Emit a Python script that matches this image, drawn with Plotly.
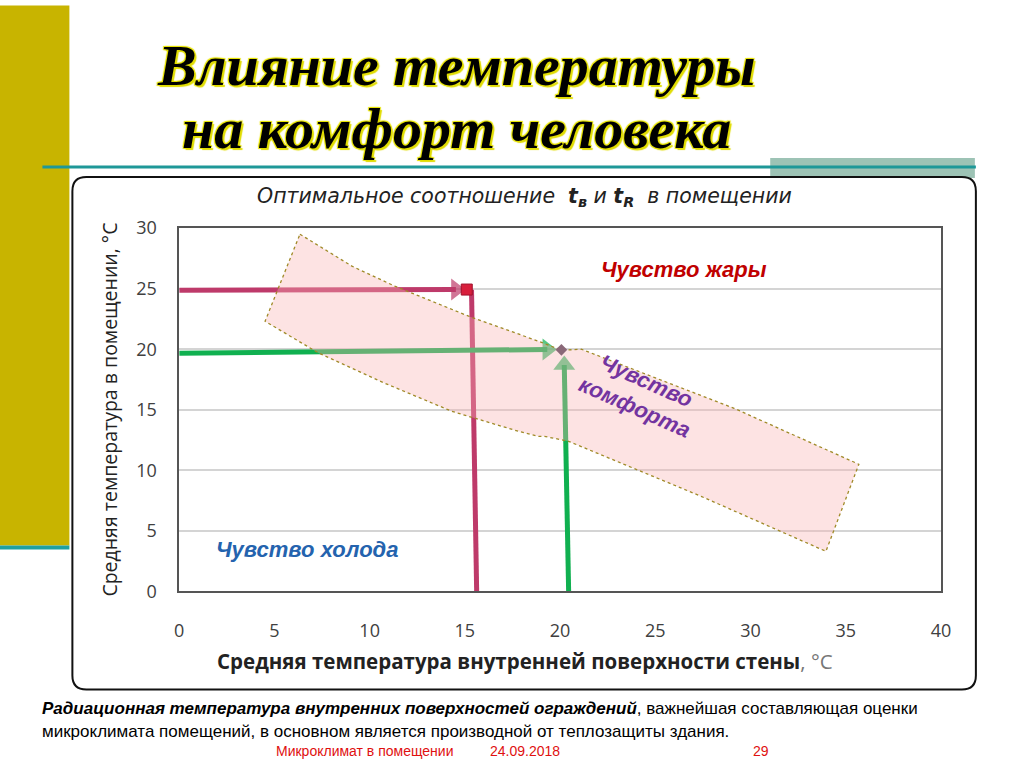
import plotly.graph_objects as go

W, H = 1024, 767
# measured page -> picture mapping of the capture (picture = C + S * page)
SX, CX = 0.987, 2.5
SY, CY = 0.968, 12.0

# ---------------- data ----------------
x_ticks = [0, 5, 10, 15, 20, 25, 30, 35, 40]
y_ticks = [0, 5, 10, 15, 20, 25, 30]

# comfort zone outline (wall temperature, room temperature)
comfort_x = [6.34, 9.07, 11.32, 15.20, 18.87, 20.07, 21.12, 29.14, 35.69,
             33.96, 27.41, 20.44, 19.18, 18.87, 17.82, 14.31, 10.80, 7.34, 4.51, 6.34]
comfort_y = [29.50, 26.86, 25.21, 22.73, 20.66, 19.92, 20.00, 15.12, 10.50,
             3.31, 7.85, 12.40, 12.81, 12.81, 13.22, 14.88, 17.19, 19.67, 22.31, 29.50]

# "too hot" example: room 25 °C -> wall ~15 °C
hot_arrow_x = [0.0, 14.53]
hot_arrow_y = [24.88, 24.93]
hot_drop_x = [15.35, 15.62]
hot_drop_y = [24.9, 0.0]
hot_point_x = [15.1]
hot_point_y = [24.93]

# optimum example: room 20 °C, wall 20 °C
opt_arrow_x = [0.0, 19.33]
opt_arrow_y = [19.67, 19.98]
wall_arrow_x = [20.45, 20.22]
wall_arrow_y = [0.0, 18.7]
opt_point_x = [20.07]
opt_point_y = [19.95]

chart_title = "Оптимальное соотношение  <b>t<sub>в</sub></b> и <b>t<sub>R</sub></b>  в помещении"
x_title = "<b>Средняя температура внутренней поверхности стены</b><span style='color:#777'>, °С</span>"
y_title = "Средняя температура в помещении, °С"

RED = "#BE3A6A"
GREEN = "#10B050"


def px(x):
    return ((x - CX) / SX) / W


def py(y):
    return 1 - ((y - CY) / SY) / H


fig = go.Figure()

# arrows (drawn first, comfort zone overlays them)
fig.add_trace(go.Scatter(x=hot_arrow_x, y=hot_arrow_y, mode="lines+markers",
                         line=dict(color=RED, width=5),
                         marker=dict(symbol="triangle-right", size=[0, 19], color=RED,
                                     line=dict(width=0)),
                         hoverinfo="skip"))
fig.add_trace(go.Scatter(x=hot_drop_x, y=hot_drop_y, mode="lines",
                         line=dict(color=RED, width=5), hoverinfo="skip"))
fig.add_trace(go.Scatter(x=opt_arrow_x, y=opt_arrow_y, mode="lines+markers",
                         line=dict(color=GREEN, width=5),
                         marker=dict(symbol="triangle-right", size=[0, 19], color=GREEN,
                                     line=dict(width=0)),
                         hoverinfo="skip"))
fig.add_trace(go.Scatter(x=wall_arrow_x, y=wall_arrow_y, mode="lines+markers",
                         line=dict(color=GREEN, width=5),
                         marker=dict(symbol="triangle-up", size=[0, 19], color=GREEN,
                                     line=dict(width=0)),
                         hoverinfo="skip"))

# comfort zone
fig.add_trace(go.Scatter(x=comfort_x, y=comfort_y, mode="lines", fill="toself",
                         fillcolor="rgba(249,178,178,0.37)",
                         line=dict(color="#A08A28", width=1.3, dash="dot"),
                         hoverinfo="skip"))

# points
fig.add_trace(go.Scatter(x=hot_point_x, y=hot_point_y, mode="markers",
                         marker=dict(symbol="square", size=11, color="#D81E3C",
                                     line=dict(color="#A0102A", width=1)),
                         hoverinfo="skip"))
fig.add_trace(go.Scatter(x=opt_point_x, y=opt_point_y, mode="markers",
                         marker=dict(symbol="diamond", size=9, color="#8A6878"),
                         hoverinfo="skip"))

TITLE_SHADOW = "2px 2px 1px #E0DC00, -1px -1px 1px #E8E400, 1px -1px 1px #E8E400, -1px 1px 1px #E8E400"

annotations = [
    # main slide title
    dict(text="<b><i>Влияние температуры</i></b>", x=px(455), y=py(64), xref="paper", yref="paper",
         showarrow=False, xanchor="center", yanchor="middle",
         font=dict(family="Liberation Serif", size=58, color="#000000", shadow=TITLE_SHADOW)),
    dict(text="<b><i>на комфорт человека</i></b>", x=px(455), y=py(127), xref="paper", yref="paper",
         showarrow=False, xanchor="center", yanchor="middle",
         font=dict(family="Liberation Serif", size=58, color="#000000", shadow=TITLE_SHADOW)),
    # chart title
    dict(text="<i>" + chart_title + "</i>", x=px(523), y=py(196), xref="paper", yref="paper",
         showarrow=False, xanchor="center", yanchor="middle",
         font=dict(family="DejaVu Sans", size=20.5, color="#222222")),
    # axis titles
    dict(text=x_title, x=px(523), y=py(660), xref="paper", yref="paper",
         showarrow=False, xanchor="center", yanchor="middle",
         font=dict(family="Open Sans", size=20.5, color="#222222")),
    dict(text=y_title, x=px(107), y=py(408), xref="paper", yref="paper", textangle=-90,
         showarrow=False, xanchor="center", yanchor="middle",
         font=dict(family="Open Sans", size=19.5, color="#222222")),
    # zone labels
    dict(text="<b><i>Чувство жары</i></b>", x=26.5, y=26.6, xref="x", yref="y",
         showarrow=False, font=dict(family="Liberation Sans", size=22, color="#C00000")),
    dict(text="<b><i>Чувство холода</i></b>", x=6.7, y=3.5, xref="x", yref="y",
         showarrow=False, font=dict(family="Liberation Sans", size=22, color="#2463AE")),
    dict(text="<b><i>Чувство<br>комфорта</i></b>", x=24.2, y=16.3, xref="x", yref="y",
         showarrow=False, textangle=24,
         font=dict(family="Liberation Sans", size=22, color="#7334A0")),
    # bottom caption
    dict(text="<b><i>Радиационная температура внутренних поверхностей ограждений</i></b>, важнейшая составляющая оценки",
         x=px(38), y=py(707), xref="paper", yref="paper", showarrow=False,
         xanchor="left", yanchor="middle",
         font=dict(family="Liberation Sans", size=17, color="#000000")),
    dict(text="микроклимата помещений, в основном является производной от теплозащиты здания.",
         x=px(38), y=py(730), xref="paper", yref="paper", showarrow=False,
         xanchor="left", yanchor="middle",
         font=dict(family="Liberation Sans", size=17, color="#000000")),
    # footer
    dict(text="Микроклимат в помещении", x=px(272), y=py(749.5), xref="paper", yref="paper",
         showarrow=False, xanchor="left", yanchor="middle",
         font=dict(family="Liberation Sans", size=14, color="#E01010")),
    dict(text="24.09.2018", x=px(486), y=py(749.5), xref="paper", yref="paper",
         showarrow=False, xanchor="left", yanchor="middle",
         font=dict(family="Liberation Sans", size=14, color="#E01010")),
    dict(text="29", x=px(760), y=py(749.5), xref="paper", yref="paper",
         showarrow=False, xanchor="center", yanchor="middle",
         font=dict(family="Liberation Sans", size=14, color="#E01010")),
]

# rounded chart frame path (paper coords)
x0, y0, x1, y1, r = 70, 176, 975, 688, 14
frame_path = (
    f"M {px(x0 + r)},{py(y0)} L {px(x1 - r)},{py(y0)} Q {px(x1)},{py(y0)} {px(x1)},{py(y0 + r)} "
    f"L {px(x1)},{py(y1 - r)} Q {px(x1)},{py(y1)} {px(x1 - r)},{py(y1)} "
    f"L {px(x0 + r)},{py(y1)} Q {px(x0)},{py(y1)} {px(x0)},{py(y1 - r)} "
    f"L {px(x0)},{py(y0 + r)} Q {px(x0)},{py(y0)} {px(x0 + r)},{py(y0)} Z"
)

shapes = [
    # olive side bar
    dict(type="rect", xref="paper", yref="paper", x0=-0.01, x1=px(67), y0=py(544), y1=1.01,
         fillcolor="#C8B400", line=dict(width=0), layer="below"),
    dict(type="rect", xref="paper", yref="paper", x0=-0.01, x1=px(67), y0=py(548), y1=py(544),
         fillcolor="#1FA0A0", line=dict(width=0), layer="below"),
    # sage block
    dict(type="rect", xref="paper", yref="paper", x0=px(769), x1=px(974), y0=py(177), y1=py(157),
         fillcolor="#9DC3B5", line=dict(width=0), layer="below"),
    # teal rule
    dict(type="line", xref="paper", yref="paper", x0=px(40), x1=px(975), y0=py(166), y1=py(166),
         line=dict(color="#1E9898", width=3), layer="below"),
    # chart frame
    dict(type="path", xref="paper", yref="paper", path=frame_path,
         line=dict(color="#111111", width=2), layer="below"),
]

fig.update_layout(
    width=W, height=H,
    margin=dict(l=0, r=0, t=0, b=0),
    paper_bgcolor="white", plot_bgcolor="white",
    showlegend=False,
    annotations=annotations,
    shapes=shapes,
    xaxis=dict(domain=[px(177), px(940)], range=[0, 40], tickvals=x_ticks,
               showgrid=False, zeroline=False, showline=True, mirror=True,
               linecolor="#555555", linewidth=1.5, ticks="",
               ticklabelstandoff=22,
               tickfont=dict(family="Open Sans", size=18, color="#404040")),
    yaxis=dict(domain=[py(590), py(227)], range=[0, 30], tickvals=y_ticks,
               showgrid=True, gridcolor="#D4D4D4", gridwidth=1.5,
               zeroline=False, showline=True, mirror=True,
               linecolor="#555555", linewidth=1.5, ticks="",
               ticklabelstandoff=17,
               tickfont=dict(family="Open Sans", size=18, color="#404040")),
)

fig.write_html("out.html", config={"displayModeBar": False},
               post_script="document.body.style.margin='0';document.documentElement.style.overflow='hidden';")
